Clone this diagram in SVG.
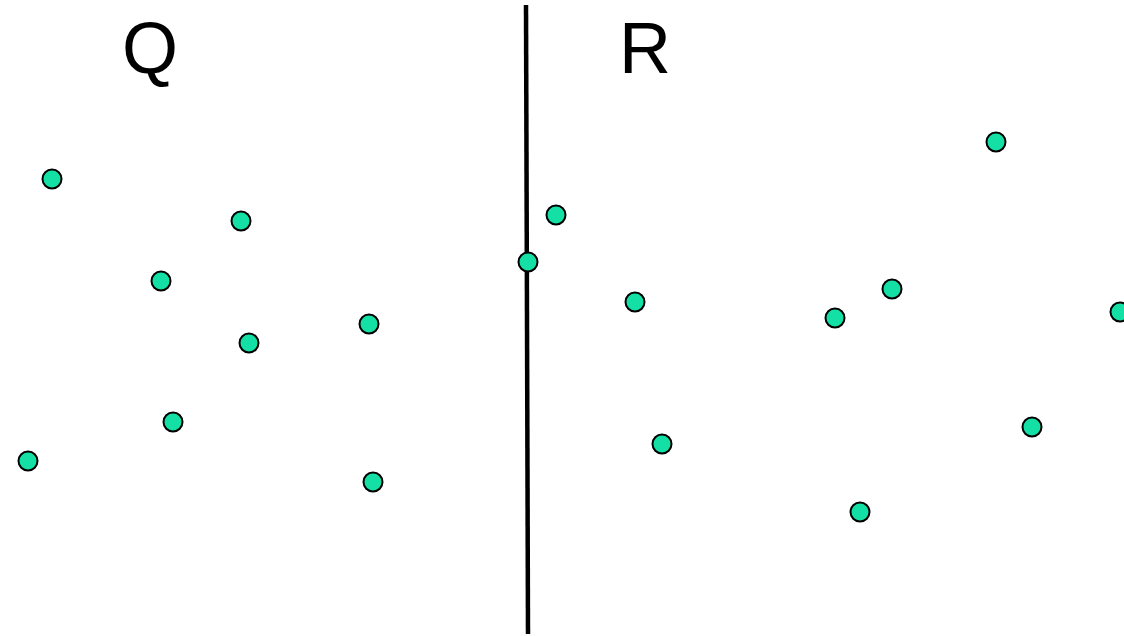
<svg xmlns="http://www.w3.org/2000/svg" width="1124" height="636" viewBox="0 0 1124 636">
  <style>
    .lbl { font-family: "Liberation Sans", Arial, sans-serif; font-size: 72px; fill: #000; }
    .pt { fill: #14e0a6; stroke: #000; stroke-width: 2; }
  </style>
  <rect width="1124" height="636" fill="#fff"/>
  <g id="labels">
    <text class="lbl" x="122" y="73">Q</text>
    <text class="lbl" x="619" y="73">R</text>
  </g>
  <g id="divider">
    <line x1="526" y1="5" x2="528" y2="634" stroke="#000" stroke-width="4.5"/>
  </g>
  <g id="points-q">
    <circle class="pt" cx="52" cy="179" r="9.5"/>
    <circle class="pt" cx="241" cy="221" r="9.5"/>
    <circle class="pt" cx="161" cy="281" r="9.5"/>
    <circle class="pt" cx="249" cy="343" r="9.5"/>
    <circle class="pt" cx="369" cy="324" r="9.5"/>
    <circle class="pt" cx="173" cy="422" r="9.5"/>
    <circle class="pt" cx="28" cy="461" r="9.5"/>
    <circle class="pt" cx="373" cy="482" r="9.5"/>
  </g>
  <g id="points-r">
    <circle class="pt" cx="556" cy="215" r="9.5"/>
    <circle class="pt" cx="528" cy="262" r="9.5"/>
    <circle class="pt" cx="635" cy="302" r="9.5"/>
    <circle class="pt" cx="996" cy="142" r="9.5"/>
    <circle class="pt" cx="892" cy="289" r="9.5"/>
    <circle class="pt" cx="835" cy="318" r="9.5"/>
    <circle class="pt" cx="1120" cy="312" r="9.5"/>
    <circle class="pt" cx="1032" cy="427" r="9.5"/>
    <circle class="pt" cx="662" cy="444" r="9.5"/>
    <circle class="pt" cx="860" cy="512" r="9.5"/>
  </g>
</svg>
